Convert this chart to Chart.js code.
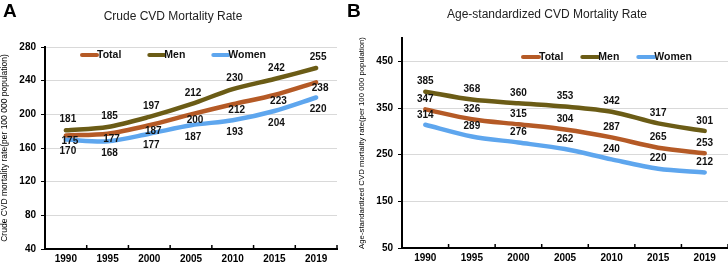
<!DOCTYPE html>
<html>
<head>
<meta charset="utf-8">
<script src="https://cdn.jsdelivr.net/npm/chart.js@4.4.1/dist/chart.umd.min.js"></script>
<style>
  body { margin: 0; width: 728px; height: 265px; background: #fff; overflow: hidden; position: relative; font-family: "Liberation Sans", Arial, sans-serif; }
  .panel { position: absolute; top: 0; height: 265px; }
  .letter { position: absolute; top: 0; font-size: 19px; font-weight: bold; color: #000; }
  .title { position: absolute; text-align: center; font-size: 12px; color: #222; }
</style>
</head>
<body>
<div class="panel" style="left:0;width:357px"><canvas id="grafA" width="357" height="265"></canvas></div>
<div class="panel" style="left:357px;width:371px"><canvas id="grafB" width="371" height="265"></canvas></div>
<div class="letter" style="left:3px">A</div>
<div class="letter" style="left:347px">B</div>
<div class="title" style="left:0;width:346px;top:9px">Crude CVD Mortality Rate</div>
<div class="title" style="left:347px;width:400px;top:7px">Age-standardized CVD Mortality Rate</div>

<script>
// data
const years = ["1990", "1995", "2000", "2005", "2010", "2015", "2019"];
const seriesNames = ["Total", "Men", "Women"];

const crudeTotal = [175, 177, 187, 200, 212, 223, 238];
const crudeMen = [181, 185, 197, 212, 230, 242, 255];
const crudeWomen = [170, 168, 177, 187, 193, 204, 220];
const crudeTicks = [40, 80, 120, 160, 200, 240, 280];

const ageTotal = [347, 326, 315, 304, 287, 265, 253];
const ageMen = [385, 368, 360, 353, 342, 317, 301];
const ageWomen = [314, 289, 276, 262, 240, 220, 212];
const ageTicks = [50, 150, 250, 350, 450];
const ageMax = 500;

const barvy = ["#b55a26", "#6b5c16", "#5ea6ee"];
const pismo = '"Liberation Sans", Arial, sans-serif';

Chart.defaults.font.family = pismo;
Chart.defaults.color = "#000";

// popisky hodnot u bodu
const popiskyHodnot = {
    id: "popiskyHodnot",
    afterDatasetsDraw(chart, args, opts) {
        const ctx = chart.ctx;
        ctx.save();
        ctx.font = "bold 10px " + pismo;
        ctx.fillStyle = "#111";
        ctx.textAlign = "center";
        ctx.textBaseline = "middle";
        chart.data.datasets.forEach(function(ds, i) {
            const off = opts.offsets[i];
            chart.getDatasetMeta(i).data.forEach(function(pt, j) {
                ctx.fillText(String(ds.data[j]), pt.x + off.dx, pt.y + off.dy);
            });
        });
        ctx.restore();
    }
};

// legenda uvnitr grafu
const legendaUvnitr = {
    id: "legendaUvnitr",
    afterDraw(chart, args, opts) {
        const ctx = chart.ctx;
        ctx.save();
        ctx.font = "bold 10.5px " + pismo;
        ctx.textBaseline = "middle";
        ctx.textAlign = "left";
        let x = opts.x;
        chart.data.datasets.forEach(function(ds) {
            ctx.strokeStyle = ds.borderColor;
            ctx.lineWidth = 4;
            ctx.lineCap = "round";
            ctx.beginPath();
            ctx.moveTo(x + 2, opts.y);
            ctx.lineTo(x + opts.lineLen, opts.y);
            ctx.stroke();
            ctx.fillStyle = "#111";
            ctx.fillText(ds.label, x + opts.lineLen, opts.y + 0.5);
            x += opts.lineLen + ctx.measureText(ds.label).width + opts.gap;
        });
        ctx.restore();
    }
};

// male znacky na ose x smerem nahoru
const znackyOsyX = {
    id: "znackyOsyX",
    afterDraw(chart) {
        const xs = chart.scales.x;
        const ctx = chart.ctx;
        const n = chart.data.labels.length;
        const krok = xs.getPixelForTick(1) - xs.getPixelForTick(0);
        ctx.save();
        ctx.strokeStyle = "#000";
        ctx.lineWidth = 1.5;
        for (let i = 1; i <= n; i++) {
            const px = xs.getPixelForTick(i - 1) + krok / 2;
            ctx.beginPath();
            ctx.moveTo(px, xs.top);
            ctx.lineTo(px, xs.top - 4);
            ctx.stroke();
        }
        ctx.restore();
    }
};

function datasety(total, men, women) {
    return [total, men, women].map(function(data, i) {
        return {
            label: seriesNames[i],
            data: data,
            borderColor: barvy[i],
            backgroundColor: barvy[i],
            borderWidth: 4.5,
            borderCapStyle: "round",
            tension: 0.3,
            pointRadius: 0,
            clip: false
        };
    });
}

function vytvorGraf(id, cfg) {
    return new Chart(document.getElementById(id), {
        type: "line",
        data: { labels: years, datasets: datasety(cfg.total, cfg.men, cfg.women) },
        options: {
            responsive: false,
            animation: false,
            devicePixelRatio: 1,
            layout: { padding: { top: cfg.padTop, right: cfg.padRight, left: 0, bottom: 0 } },
            plugins: {
                legend: { display: false },
                tooltip: { enabled: false },
                popiskyHodnot: { offsets: cfg.offsets },
                legendaUvnitr: cfg.legenda
            },
            scales: {
                x: {
                    offset: true,
                    grid: { display: false, drawTicks: false, tickLength: 0 },
                    border: { color: "#000", width: 2 },
                    ticks: { font: { size: 10, weight: "bold" }, color: "#000", padding: 4, maxRotation: 0 },
                    afterFit: function(s) { s.height = cfg.xHeight; }
                },
                y: {
                    min: cfg.ticks[0],
                    max: cfg.max,
                    afterBuildTicks: function(s) { s.ticks = cfg.ticks.map(function(v) { return { value: v }; }); },
                    grid: { color: "#d9d9d9", lineWidth: 1, tickColor: "#000", tickLength: 4 },
                    border: { color: "#000", width: 2 },
                    ticks: { font: { size: 10, weight: "bold" }, color: "#000", padding: 5 },
                    title: { display: true, text: cfg.yTitle, font: { size: cfg.yTitleSize }, color: "#000", padding: 0 },
                    afterFit: function(s) { s.width = 45; }
                }
            }
        },
        plugins: [popiskyHodnot, legendaUvnitr, znackyOsyX]
    });
}

window.addEventListener("DOMContentLoaded", function() {
    vytvorGraf("grafA", {
        total: crudeTotal, men: crudeMen, women: crudeWomen,
        ticks: crudeTicks, max: crudeTicks[crudeTicks.length - 1],
        padTop: 47, padRight: 20, xHeight: 16,
        yTitle: "Crude CVD mortality rate(per 100 000 population)", yTitleSize: 8.5,
        offsets: [{ dx: 4, dy: 6 }, { dx: 2, dy: -11 }, { dx: 2, dy: 12 }],
        legenda: { x: 80, y: 55, lineLen: 17, gap: 26 }
    });
    vytvorGraf("grafB", {
        total: ageTotal, men: ageMen, women: ageWomen,
        ticks: ageTicks, max: ageMax,
        padTop: 38, padRight: 0, xHeight: 17,
        yTitle: "Age-standardized CVD mortality rate(per 100 000 population)", yTitleSize: 7.8,
        offsets: [{ dx: 0, dy: -10 }, { dx: 0, dy: -10 }, { dx: 0, dy: -10 }],
        legenda: { x: 164, y: 57, lineLen: 18, gap: 17 }
    });
});
</script>
</body>
</html>
